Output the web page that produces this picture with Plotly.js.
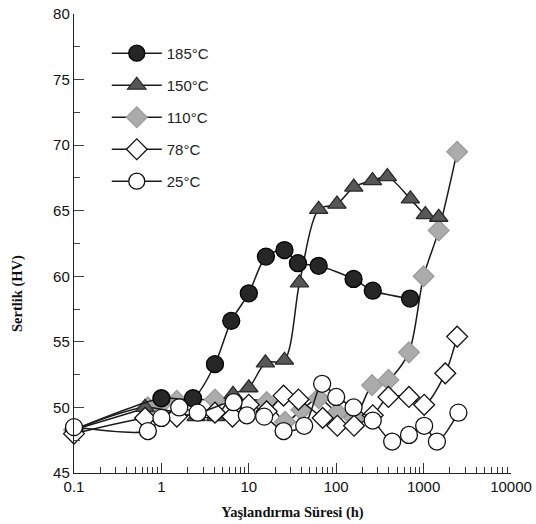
<!DOCTYPE html>
<html>
<head>
<meta charset="utf-8">
<script src="https://cdn.plot.ly/plotly-3.0.1.min.js"></script>
<style>html,body{margin:0;padding:0;background:#fff;}#chart{width:536px;height:524px;}</style>
</head>
<body>
<div id="chart"></div>
<script>
// Aging time (h) and hardness (HV) for each aging temperature
var t185 = [0.1, 1.0, 2.3, 4.1, 6.3, 10, 15.7, 25.6, 36.5, 63, 158, 262, 700];
var hv185 = [48.3, 50.7, 50.7, 53.3, 56.6, 58.7, 61.5, 62.0, 61.0, 60.8, 59.8, 58.9, 58.3];

var t150 = [0.1, 0.65, 2.5, 4.2, 6.6, 10, 15.5, 25.6, 38, 63, 102, 159, 260, 385, 706, 1047, 1490];
var hv150 = [48.3, 50.0, 49.3, 49.3, 51.0, 51.5, 53.4, 53.6, 59.5, 65.1, 65.5, 66.8, 67.3, 67.6, 65.9, 64.7, 64.5];

var t110 = [0.1, 0.7, 1.0, 1.5, 4.1, 16, 26, 40, 63, 103, 160, 257, 396, 680, 1000, 1490, 2420];
var hv110 = [48.3, 50.0, 50.3, 50.5, 50.6, 50.4, 48.9, 49.8, 50.7, 49.6, 49.2, 51.7, 52.1, 54.2, 60.0, 63.5, 69.5];

var t78 = [0.1, 0.65, 1.5, 4.1, 6.5, 10, 16, 25, 37, 70, 103, 160, 262, 396, 680, 1015, 1770, 2420];
var hv78 = [48.0, 49.2, 49.3, 49.6, 49.3, 50.2, 49.7, 50.9, 50.6, 49.2, 48.6, 48.6, 49.4, 50.8, 50.8, 50.2, 52.6, 55.4];

var t25 = [0.1, 0.7, 1.0, 1.6, 2.6, 6.7, 9.5, 15, 25, 43, 69, 100, 158, 262, 437, 680, 1015, 1420, 2500];
var hv25 = [48.5, 48.2, 49.2, 50.0, 49.6, 50.4, 49.4, 49.3, 48.2, 48.6, 51.8, 50.8, 50.0, 49.0, 47.4, 47.9, 48.6, 47.4, 49.6];

var seriesNames = ['185°C', '150°C', '110°C', '78°C', '25°C'];
var xTickVals = [0.1, 1, 10, 100, 1000, 10000];
var xTickText = ['0.1', '1', '10', '100', '1000', '10000'];
var yTickVals = [45, 50, 55, 60, 65, 70, 75, 80];

function trace(x, y, name, rank, symbol, size, fill, edge, lineColor) {
  return {
    x: x, y: y, name: name, type: 'scatter', mode: 'lines+markers',
    legendrank: rank, legendgroup: name, cliponaxis: false,
    line: {color: lineColor, width: 1.5, shape: 'spline', smoothing: 0.8},
    marker: {symbol: symbol, size: size, color: fill, line: {color: edge, width: 1.3}}
  };
}

var data = [
  trace(t110, hv110, seriesNames[2], 3, 'diamond', 16, '#ababab', '#9c9c9c', '#1a1a1a'),
  trace(t150, hv150, seriesNames[1], 2, 'triangle-up', 16, '#575757', '#2a2a2a', '#1a1a1a'),
  trace(t185, hv185, seriesNames[0], 1, 'circle', 17, '#262626', '#000000', '#1a1a1a'),
  trace(t78, hv78, seriesNames[3], 4, 'diamond', 16, '#ffffff', '#111111', '#1a1a1a'),
  trace(t25, hv25, seriesNames[4], 5, 'circle', 17, '#ffffff', '#111111', '#1a1a1a')
];

var layout = {
  width: 536, height: 524,
  margin: {l: 74, r: 25, t: 14, b: 51},
  paper_bgcolor: '#ffffff', plot_bgcolor: '#ffffff',
  font: {family: 'Liberation Sans, Arial, sans-serif', size: 15, color: '#111'},
  showlegend: true,
  legend: {
    x: 0.075, y: 0.95, xanchor: 'left', yanchor: 'top',
    bgcolor: 'rgba(0,0,0,0)', borderwidth: 0,
    font: {family: 'Liberation Sans, Arial, sans-serif', size: 15, color: '#222'},
    itemsizing: 'trace', itemwidth: 50, tracegroupgap: 9.5
  },
  xaxis: {
    type: 'log', range: [-1, 4],
    tickmode: 'array', tickvals: xTickVals, ticktext: xTickText,
    ticks: 'inside', ticklen: 10, tickwidth: 1, tickcolor: '#333',
    minor: {dtick: 'D1', ticks: 'inside', ticklen: 6, tickwidth: 1, tickcolor: '#333'},
    showline: true, linecolor: '#222', linewidth: 1.2, mirror: false,
    showgrid: false, zeroline: false,
    tickfont: {family: 'Liberation Sans, Arial, sans-serif', size: 15, color: '#111'},
    title: {text: 'Yaşlandırma Süresi (h)', standoff: 12,
      font: {family: 'Liberation Serif, Times New Roman, serif', size: 14.5, color: '#111', weight: 'bold'}}
  },
  yaxis: {
    range: [45, 80], tickmode: 'array', tickvals: yTickVals,
    ticks: 'inside', ticklen: 10, tickwidth: 1, tickcolor: '#444',
    minor: {dtick: 2.5, ticks: 'inside', ticklen: 6, tickwidth: 1, tickcolor: '#444'},
    showline: true, linecolor: '#222', linewidth: 1.2, mirror: false,
    showgrid: false, zeroline: false,
    tickfont: {family: 'Liberation Sans, Arial, sans-serif', size: 15, color: '#111'}
  },
  annotations: [{
    text: 'Sertlik (HV)', xref: 'paper', yref: 'paper',
    x: -0.128, y: 0.39, xanchor: 'center', yanchor: 'middle', textangle: -90, showarrow: false,
    font: {family: 'Liberation Serif, Times New Roman, serif', size: 14.5, color: '#111', weight: 'bold'}
  }]
};

Plotly.newPlot('chart', data, layout, {displayModeBar: false, staticPlot: true});
</script>
</body>
</html>
